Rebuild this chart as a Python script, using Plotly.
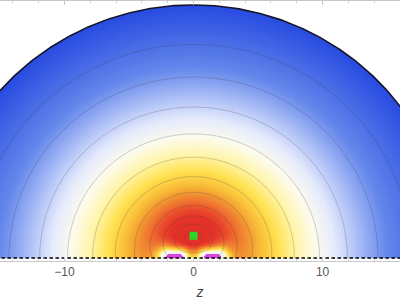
import numpy as np
import plotly.graph_objects as go

# ---- values ----
R_DOMAIN = 20.0                      # radius of the half-disc
RING_RHO = 1.76                      # height of the central maximum (green point)
SPOT_Z = [-1.5, 1.5]                 # positions of the two on-axis spots
SPOT_HALF_LEN = 0.4                  # half-length of each spot segment
SPOT_AMP = 4.2
SPOT_DECAY = 0.55
SPOT_CORE = 2.6                      # spot strength above which it is drawn magenta
SPOT_CAP = 3.2                       # halo value cap (white)
MARKER_Z = [0.0]
MARKER_RHO = [1.76]
LEVEL_START = 0.176                  # contour levels (sqrt scale)
LEVEL_STEP = 0.3277
LEVEL_END = 4.16
X_TICKS = [-10, 0, 10]
X_TICK_TEXT = ["\u221210", "0", "10"]
X_RANGE = [-15.0, 16.0]
Y_RANGE = [-0.23, 20.31]

# colour stops: (value, colour)
COLOR_STOPS = [
    (0.00, "rgb(225,40,40)"),
    (1.45, "rgb(228,50,40)"),
    (1.70, "rgb(234,75,43)"),
    (1.87, "rgb(238,105,47)"),
    (2.09, "rgb(242,145,50)"),
    (2.30, "rgb(248,188,55)"),
    (2.57, "rgb(255,225,80)"),
    (2.84, "rgb(255,245,170)"),
    (3.09, "rgb(252,251,238)"),
    (3.32, "rgb(228,234,252)"),
    (3.60, "rgb(165,185,245)"),
    (3.88, "rgb(100,135,235)"),
    (4.47, "rgb(40,75,225)"),
    (5.00, "rgb(40,75,225)"),
]
ZMIN, ZMAX = 0.0, 5.0
MAGENTA = "rgb(215,70,225)"

# ---- field on a grid ----
step = 0.05
zs = np.round(np.arange(-15.3, 16.35, step), 3)
rs = np.round(np.arange(0.0, 20.4, step), 3)
Z, P = np.meshgrid(zs, rs)
r = np.hypot(Z, P)
zeff = Z / (1 + 0.4 * np.exp(-(r / 3.0) ** 2))
d1 = np.hypot(zeff, P - RING_RHO)
w = np.exp(-(r / 5.0) ** 2)
D = w * d1 + (1 - w) * r
t = np.sqrt(D)

S = np.zeros_like(t)
for zc in SPOT_Z:
    dz = np.maximum(np.abs(Z - zc) - SPOT_HALF_LEN, 0)
    ds = np.hypot(dz, P)
    S += SPOT_AMP * np.exp(-ds / SPOT_DECAY)
u = np.where(S > 0.01, np.minimum(t + S, np.maximum(t, SPOT_CAP)), t)
u = np.clip(u, ZMIN, ZMAX)
u[r > R_DOMAIN] = np.nan
u = np.round(u, 3)
core = np.where(S > SPOT_CORE, 1.0, np.nan)
tc = np.round(t, 3)

cs = [[(v - ZMIN) / (ZMAX - ZMIN), c] for v, c in COLOR_STOPS]

fig = go.Figure()
fig.add_trace(go.Heatmap(x=zs, y=rs, z=u, colorscale=cs, zmin=ZMIN, zmax=ZMAX,
                         showscale=False, hoverinfo="skip"))
fig.add_trace(go.Heatmap(x=zs, y=rs, z=core, colorscale=[[0, MAGENTA], [1, MAGENTA]],
                         showscale=False, hoverinfo="skip"))
fig.add_trace(go.Contour(x=zs, y=rs, z=tc, showscale=False, hoverinfo="skip",
                         contours=dict(coloring="none", start=LEVEL_START,
                                       end=LEVEL_END, size=LEVEL_STEP),
                         line=dict(color="rgba(70,70,70,0.42)", width=0.6)))
th = np.linspace(0, np.pi, 400)
fig.add_trace(go.Scatter(x=R_DOMAIN * np.cos(th), y=R_DOMAIN * np.sin(th), mode="lines",
                         line=dict(color="#15152a", width=1.6), hoverinfo="skip"))
fig.add_trace(go.Scatter(x=[-R_DOMAIN, R_DOMAIN], y=[0, 0], mode="lines",
                         line=dict(color="black", width=1.5, dash="3.5px,2.5px"),
                         hoverinfo="skip"))
fig.add_trace(go.Scatter(x=MARKER_Z, y=MARKER_RHO, mode="markers",
                         marker=dict(symbol="square", size=8, color="rgb(40,215,40)",
                                     line=dict(width=0))))

fig.update_layout(width=400, height=300, margin=dict(l=0, r=0, t=1, b=35),
                  paper_bgcolor="white", plot_bgcolor="white", showlegend=False,
                  font=dict(family="Liberation Sans, Arial", size=12, color="#555"))
fig.update_xaxes(range=X_RANGE, tickvals=X_TICKS, ticktext=X_TICK_TEXT,
                 showgrid=False, zeroline=False, showline=True, mirror="ticks",
                 linecolor="#c8c8c8", linewidth=1, ticks="inside", ticklen=4,
                 tickcolor="#c8c8c8",
                 minor=dict(dtick=2, ticks="inside", ticklen=2, tickcolor="#d0d0d0"),
                 title=dict(text="<i>z</i>", font=dict(size=14, color="#444"), standoff=11))
fig.update_yaxes(range=Y_RANGE, showgrid=False, zeroline=False, showline=False,
                 showticklabels=False, ticks="")
fig.write_html("out.html")
